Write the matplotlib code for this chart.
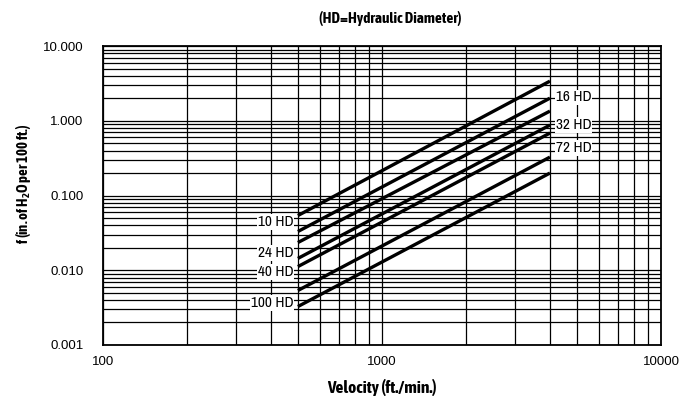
import matplotlib
matplotlib.use("Agg")
import matplotlib.pyplot as plt
from matplotlib import font_manager
from matplotlib.font_manager import FontProperties
from matplotlib.ticker import LogLocator, FixedLocator, NullFormatter
import numpy as np

# ---- data (friction loss lines, straight on log-log) ----
velocity_start = 500
velocity_end = 4000
hd_labels = ["10 HD", "16 HD", "24 HD", "32 HD", "40 HD", "72 HD", "100 HD"]
f_at_start = [0.0540, 0.0330, 0.0235, 0.0144, 0.0112, 0.00536, 0.00327]
f_at_end = [3.40, 2.01, 1.35, 0.877, 0.686, 0.327, 0.200]

x_ticks = [100, 1000, 10000]
x_tick_labels = ["100", "1000", "10000"]
y_ticks = [0.001, 0.01, 0.1, 1, 10]
y_tick_labels = ["0.001", "0.010", "0.100", "1.000", "10.000"]

# which side each label goes on, and small offset (points) from the line end
label_side = ["left", "right", "left", "right", "left", "right", "left"]
label_dy = [-4.5, 0.5, -7.5, 0, -4, 6.5, 2.5]


# ---- fonts: the chart uses a condensed grotesque ----
def by_name(f):
    return "Narrow" in f.name or "Condensed" in f.name


def is_condensed(f):
    return by_name(f) or str(f.stretch) in ("condensed", "semi-condensed", "extra-condensed")


def weight_num(w):
    if isinstance(w, int):
        return w
    table = {"ultralight": 200, "light": 300, "normal": 400, "regular": 400,
             "book": 400, "medium": 500, "semibold": 600, "demibold": 600,
             "bold": 700, "heavy": 800, "extra bold": 800, "black": 900}
    return table.get(str(w).lower(), 400)


cond = [f for f in font_manager.fontManager.ttflist if is_condensed(f) and f.style == "normal"]
cond.sort(key=lambda f: not by_name(f))  # named condensed families first
cond_reg = [f for f in cond if weight_num(f.weight) == 400]
cond_bold = [f for f in cond if 600 <= weight_num(f.weight) <= 800]
cond_bold.sort(key=lambda f: (not by_name(f), abs(weight_num(f.weight) - 700)))


def fp(files, size, fallback_weight):
    if files:
        return FontProperties(fname=files[0].fname, size=size)
    return FontProperties(family="Liberation Sans", weight=fallback_weight, size=size)


lab_font = fp(cond_reg, 11, "normal")
names = {f.name for f in font_manager.fontManager.ttflist}
regular = "Liberation Sans" if "Liberation Sans" in names else "DejaVu Sans"

fig = plt.figure(figsize=(6.9, 4.01), dpi=100)
ax = fig.add_axes([0.149, 0.1397, 0.809, 0.7453])
ax.set_xscale("log")
ax.set_yscale("log")
ax.set_xlim(100, 10000)
ax.set_ylim(0.001, 10)

# grid at every 1..9 of each decade
ax.xaxis.set_major_locator(FixedLocator(x_ticks))
ax.xaxis.set_minor_locator(LogLocator(base=10, subs=np.arange(2, 10)))
ax.yaxis.set_major_locator(FixedLocator(y_ticks))
ax.yaxis.set_minor_locator(LogLocator(base=10, subs=np.arange(2, 10)))
ax.xaxis.set_minor_formatter(NullFormatter())
ax.yaxis.set_minor_formatter(NullFormatter())
ax.set_xticklabels(x_tick_labels, fontfamily=regular, fontsize=9.5)
ax.set_yticklabels(y_tick_labels, fontfamily=regular, fontsize=9.5)
ax.tick_params(axis="x", which="both", length=0, pad=8)
ax.tick_params(axis="y", which="both", length=0, pad=14)
ax.grid(True, which="both", color="black", linewidth=0.9)
ax.set_axisbelow(True)
for sp in ax.spines.values():
    sp.set_linewidth(1.3)

for i, lab in enumerate(hd_labels):
    ax.plot([velocity_start, velocity_end], [f_at_start[i], f_at_end[i]],
            color="black", linewidth=2.4, solid_capstyle="butt", zorder=3)
    if label_side[i] == "left":
        xy = (velocity_start, f_at_start[i])
        off = (-3, label_dy[i])
        ha = "right"
    else:
        xy = (velocity_end, f_at_end[i])
        off = (4, label_dy[i])
        ha = "left"
    ax.annotate(lab, xy=xy, xytext=off, textcoords="offset points",
                ha=ha, va="center", fontproperties=lab_font, zorder=4,
                bbox=dict(boxstyle="square,pad=0.05", facecolor="white", edgecolor="none"))

ax.set_xlabel("Velocity (ft./min.)", fontproperties=fp(cond_bold, 12.5, "bold"),
              labelpad=8)
ax.set_ylabel("f (in. of H$_\\mathregular{2}$O per 100 ft.)",
              fontproperties=fp(cond_bold, 10.5, "bold"))
ax.yaxis.set_label_coords(-0.125, 0.54)
fig.text(0.565, 0.955, "(HD=Hydraulic Diameter)", ha="center", va="center",
         fontproperties=fp(cond_bold, 11, "bold"))

fig.savefig("out.png", dpi=100)
